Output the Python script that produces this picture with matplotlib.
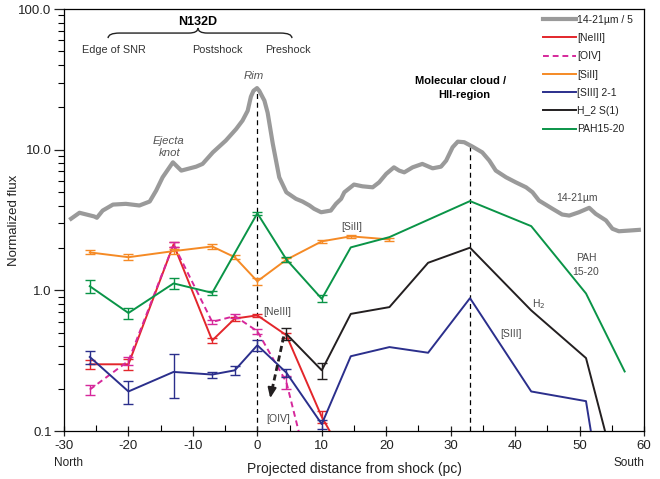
import numpy as np
import matplotlib
matplotlib.use("Agg")
import matplotlib.pyplot as plt
from matplotlib.path import Path
from matplotlib.patches import PathPatch
from matplotlib.ticker import FixedLocator, FixedFormatter, MultipleLocator, NullFormatter

plt.rcParams['font.family'] = ['Liberation Sans', 'DejaVu Sans']
plt.rcParams['axes.unicode_minus'] = False

# 14-21 micron continuum profile (scaled by 1/5)
cont_x = [-28.9, -27.6, -25.3, -24.9, -24.0, -22.4, -20.4, -18.3, -16.7, -15.7,
          -14.7, -13.1, -11.8, -9.5, -8.5, -6.9, -4.9, -3.3, -2.3, -1.5,
          -1.0, -0.6, -0.05, 0.3, 1.1, 1.6, 2.4, 3.4, 4.5, 6.0,
          7.0, 8.1, 8.8, 9.9, 11.4, 12.2, 13.0, 13.5, 15.0, 16.3,
          17.9, 18.9, 20.0, 21.2, 22.0, 22.8, 24.1, 25.6, 27.2, 28.5,
          29.3, 30.3, 31.1, 32.1, 33.4, 34.9, 36.0, 37.0, 38.6, 40.1,
          41.7, 42.7, 43.7, 45.8, 47.3, 48.4, 49.9, 51.5, 52.5, 54.1,
          55.1, 56.1, 57.7, 59.2]
cont_y = [3.23, 3.56, 3.35, 3.28, 3.69, 4.07, 4.12, 4.01, 4.28, 5.12,
          6.36, 8.13, 7.10, 7.57, 7.92, 9.57, 11.6, 14.0, 16.1, 18.9,
          23.8, 26.2, 27.4, 26.2, 22.3, 18.3, 11.0, 6.36, 4.98, 4.47,
          4.28, 4.01, 3.80, 3.59, 3.69, 4.12, 4.47, 4.98, 5.65, 5.49,
          5.40, 5.86, 6.73, 7.49, 7.10, 6.90, 7.49, 7.92, 7.37, 7.57,
          8.36, 10.4, 11.4, 11.3, 10.5, 9.57, 8.36, 7.10, 6.36, 5.86,
          5.40, 4.98, 4.35, 3.80, 3.46, 3.40, 3.59, 3.86, 3.50, 3.14,
          2.74, 2.63, 2.66, 2.69]

# [NeIII]
neiii_x = [-26, -20, -13, -7, -3.5, 0, 4.5, 10, 14.5]
neiii_y = [0.298, 0.298, 2.12, 0.44, 0.63, 0.664, 0.48, 0.126, 0.054]
neiii_err = [0.02, 0.025, 0.08, 0.02, 0.02, 0.02, 0.02, 0.012, 0]

# [OIV]
oiv_x = [-26, -20, -13, -7, -3.5, 0, 4.5, 10]
oiv_y = [0.197, 0.315, 2.12, 0.596, 0.657, 0.512, 0.223, 0.022]
oiv_err = [0.016, 0.02, 0.1, 0.02, 0.02, 0.02, 0.025, 0]

# [SiII]
siii_x = [-26, -20, -13, -7, -3.5, 0, 4.5, 10, 14.5, 20.5]
siii_y = [1.86, 1.72, 1.90, 2.05, 1.72, 1.16, 1.65, 2.23, 2.42, 2.30]
siii_err = [0.06, 0.08, 0.08, 0.07, 0.06, 0.06, 0.06, 0.06, 0.05, 0.05]

# [SIII] 2-1
s3_x = [-26, -20, -13, -7, -3.5, 0, 4.5, 10, 14.5, 20.5, 26.5, 33, 42.5, 51, 52]
s3_y = [0.336, 0.191, 0.263, 0.252, 0.27, 0.407, 0.26, 0.112, 0.34, 0.395,
        0.36, 0.88, 0.191, 0.163, 0.085]
s3_err = [0.035, 0.035, 0.09, 0.012, 0.018, 0.036, 0.016, 0.008, 0, 0,
          0, 0, 0, 0, 0]

# H2 S(1)
h2_x = [4.5, 10, 14.5, 20.5, 26.5, 33, 42.5, 51, 54.5]
h2_y = [0.49, 0.27, 0.68, 0.76, 1.57, 2.01, 0.72, 0.33, 0.08]
h2_err = [0.05, 0.035, 0, 0, 0, 0, 0, 0, 0]

# PAH 15-20
pah_x = [-26, -20, -13, -7, 0, 4.5, 10, 14.5, 20.5, 33, 42.5, 51, 57]
pah_y = [1.07, 0.69, 1.12, 0.96, 3.53, 1.66, 0.87, 2.02, 2.39, 4.31, 2.86, 0.95, 0.265]
pah_err = [0.12, 0.06, 0.1, 0.03, 0.1, 0.07, 0.05, 0, 0, 0, 0, 0, 0]

# H2 upper-limit arrow (start, end)
arrow_start = (4.1, 0.47)
arrow_end = (2.0, 0.171)

# rim and molecular-cloud positions
rim_x, rim_top = 0, 27.4
cloud_x, cloud_top = 33, 11.0

yticks = [0.1, 1.0, 10.0, 100.0]
ylabels = ['0.1', '1.0', '10.0', '100.0']
xticks = [-30, -20, -10, 0, 10, 20, 30, 40, 50, 60]

fig = plt.figure(figsize=(6.6, 4.79), dpi=100)
ax = fig.add_axes([64/660, 1 - 431/479, 580/660, 422/479])
ax.set_yscale('log')
ax.set_xlim(-30, 60)
ax.set_ylim(0.1, 100)

C_GRAY = '#9a9a9a'
C_RED = '#e3262b'
C_PINK = '#d6289b'
C_ORANGE = '#f58a25'
C_NAVY = '#2b2f8c'
C_BLACK = '#231f20'
C_GREEN = '#0a9447'
C_TXT = '#4a4a4a'
C_AX = '#222222'


def series(x, y, err, color, label, ls='-'):
    x = np.asarray(x, float)
    y = np.asarray(y, float)
    err = np.asarray(err, float)
    ax.plot(x, y, color=color, lw=1.4, ls=ls, label=label, zorder=3)
    m = err > 0
    if m.any():
        ax.errorbar(x[m], y[m], yerr=err[m], fmt='none', ecolor=color,
                    elinewidth=1.0, capsize=3.5, capthick=1.0, zorder=3)


ax.plot(cont_x, cont_y, color=C_GRAY, lw=3.0, label='14-21\u00b5m / 5', zorder=2,
        solid_joinstyle='round')
series(neiii_x, neiii_y, neiii_err, C_RED, '[NeIII]')
series(oiv_x, oiv_y, oiv_err, C_PINK, '[OIV]', ls=(0, (3, 2)))
series(siii_x, siii_y, siii_err, C_ORANGE, '[SiII]')
series(s3_x, s3_y, s3_err, C_NAVY, '[SIII] 2-1')
series(h2_x, h2_y, h2_err, C_BLACK, 'H_2 S(1)')
series(pah_x, pah_y, pah_err, C_GREEN, 'PAH15-20')

# rim and cloud markers
ax.vlines([rim_x], 0.1, rim_top, colors='black', linestyles=(0, (4, 3)), lw=0.9, zorder=1)
ax.vlines([cloud_x], 0.1, cloud_top, colors='black', linestyles=(0, (4, 3)), lw=0.9, zorder=1)

# H2 upper-limit arrow
ax.plot([arrow_start[0], arrow_end[0] + 0.15], [arrow_start[1], arrow_end[1] * 1.08],
        color=C_BLACK, lw=2.0, ls=(0, (2.2, 1.3)), zorder=4)
ax.annotate('', xy=arrow_end, xytext=(arrow_end[0] + 0.3, arrow_end[1] * 1.2),
            arrowprops=dict(arrowstyle='-|>,head_length=0.6,head_width=0.25',
                            color=C_BLACK, lw=1.5, shrinkA=0, shrinkB=0), zorder=4)

# axes styling
ax.yaxis.set_major_locator(FixedLocator(yticks))
ax.yaxis.set_major_formatter(FixedFormatter(ylabels))
ax.yaxis.set_minor_locator(FixedLocator(
    [m * d for d in (0.1, 1, 10) for m in range(2, 10)]))
ax.yaxis.set_minor_formatter(NullFormatter())
ax.xaxis.set_major_locator(FixedLocator(xticks))
ax.xaxis.set_minor_locator(MultipleLocator(5))
ax.tick_params(axis='y', which='major', direction='out', length=7, width=0.9,
               labelsize=9.5, pad=2, right=False)
ax.tick_params(axis='y', which='minor', direction='out', length=4, width=0.8, right=False)
ax.tick_params(axis='x', which='major', direction='inout', length=7, width=0.9,
               labelsize=9.5, pad=3, top=False)
ax.tick_params(axis='x', which='minor', direction='in', length=4, width=0.8, top=False)
for s in ax.spines.values():
    s.set_linewidth(0.9)
ax.tick_params(colors=C_AX)

ax.set_xlabel('Projected distance from shock (pc)', fontsize=10, color=C_AX)
ax.xaxis.set_label_coords(0.5, -0.074)
ax.set_ylabel('Normalized flux', fontsize=9.5, color=C_AX)
ax.yaxis.set_label_coords(-0.076, 0.5)
ax.text(0.007, -0.075, 'North', transform=ax.transAxes, ha='center', va='center',
        fontsize=8.5, color=C_AX)
ax.text(1.0, -0.075, 'South', transform=ax.transAxes, ha='right', va='center',
        fontsize=8.5, color=C_AX)

# region annotations
ax.text(-9.3, 80.9, 'N132D', ha='center', va='center', fontsize=9, fontweight='bold')
ax.text(-22.3, 51.2, 'Edge of SNR', ha='center', va='center', fontsize=7.8, color='#333333')
ax.text(-6.2, 51.2, 'Postshock', ha='center', va='center', fontsize=7.8, color='#333333')
ax.text(4.8, 51.2, 'Preshock', ha='center', va='center', fontsize=7.8, color='#333333')

# curly brace above the region names (axes coordinates)
bx0, bx1, bxm = 0.076, 0.393, 0.231
by_end, by_mid, by_tip = 0.931, 0.943, 0.955
brace = Path([(bx0, by_end), (bx0, by_mid), (bx0 + 0.02, by_mid),
              (bxm - 0.016, by_mid), (bxm, by_mid), (bxm, by_tip),
              (bxm, by_mid), (bxm + 0.016, by_mid),
              (bx1 - 0.02, by_mid), (bx1, by_mid), (bx1, by_end)],
             [Path.MOVETO, Path.CURVE3, Path.CURVE3,
              Path.LINETO, Path.CURVE3, Path.CURVE3,
              Path.CURVE3, Path.CURVE3,
              Path.LINETO, Path.CURVE3, Path.CURVE3])
ax.add_patch(PathPatch(brace, transform=ax.transAxes, fill=False, lw=1.0,
                       edgecolor=C_AX, clip_on=False))

ax.text(-0.6, 33.5, 'Rim', ha='center', va='center', fontsize=8.2, style='italic', color='#555555')
ax.text(-13.8, 11.6, 'Ejecta', ha='center', va='center', fontsize=8.2, style='italic', color='#555555')
ax.text(-13.6, 9.5, 'knot', ha='center', va='center', fontsize=8.2, style='italic', color='#555555')
ax.text(31.6, 30.9, 'Molecular cloud /', ha='center', va='center', fontsize=8, fontweight='bold')
ax.text(32.1, 24.5, 'HII-region', ha='center', va='center', fontsize=8, fontweight='bold')

ax.text(3.1, 0.698, '[NeIII]', ha='center', va='center', fontsize=7.5, color=C_TXT)
ax.text(3.3, 0.122, '[OIV]', ha='center', va='center', fontsize=7.5, color=C_TXT)
ax.text(14.6, 2.8, '[SiII]', ha='center', va='center', fontsize=7.5, color=C_TXT)
ax.text(49.6, 4.57, '14-21\u00b5m', ha='center', va='center', fontsize=7.5, color=C_TXT)
ax.text(51.0, 1.69, 'PAH', ha='center', va='center', fontsize=7.5, color=C_TXT)
ax.text(51.0, 1.36, '15-20', ha='center', va='center', fontsize=7.5, color=C_TXT)
ax.text(43.6, 0.796, 'H$_2$', ha='center', va='center', fontsize=7.5, color=C_TXT)
ax.text(39.4, 0.488, '[SIII]', ha='center', va='center', fontsize=7.5, color=C_TXT)

leg = ax.legend(loc='upper left', bbox_to_anchor=(0.825, 0.986), frameon=False,
                fontsize=7.5, handlelength=3.2, handletextpad=0.1, labelspacing=0.79,
                borderpad=0, borderaxespad=0)
for t in leg.get_texts():
    t.set_color(C_AX)

fig.savefig('out.png', dpi=100)
